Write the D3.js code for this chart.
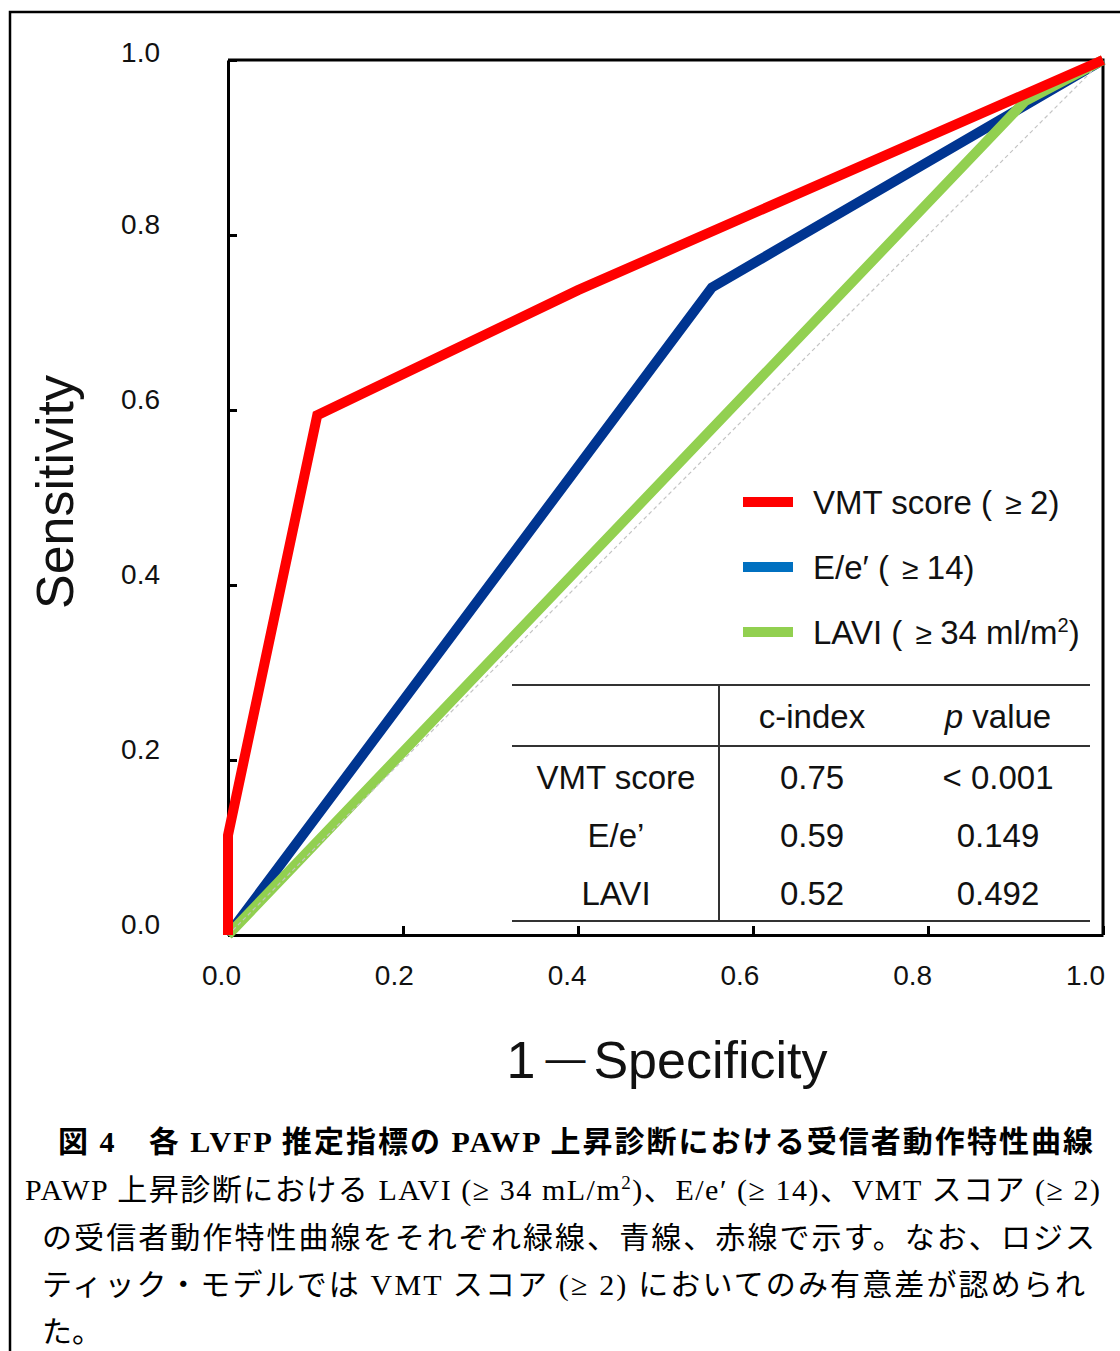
<!DOCTYPE html>
<html>
<head>
<meta charset="utf-8">
<script src="https://cdn.jsdelivr.net/npm/d3@7"></script>
<style>
  body { margin: 0; background: #fff; }
  svg { display: block; }
  .sans { font-family: "Liberation Sans", Arial, sans-serif; }
  .cap { font-family: "Liberation Serif", "Noto Sans CJK JP", serif; }
</style>
</head>
<body>
<script>
// ROC curves (1 - specificity, sensitivity)
const vmtX = [0, 0, 0.102, 0.4, 1]
const vmtY = [0, 0.114, 0.594, 0.737, 1]
const eeX = [0, 0.553, 1]
const eeY = [0, 0.74, 1]
const laviX = [0, 0.911, 1]
const laviY = [0, 0.953, 1]

const ticks = [0, 0.2, 0.4, 0.6, 0.8, 1.0]

const legendNames = ["VMT score ( ", "E/e\u2032 ( ", "LAVI ( "]
const legendCuts = ["2)", "14)", "34 ml/m"]

const rowNames = ["VMT score", "E/e\u2019", "LAVI"]
const cIndex = ["0.75", "0.59", "0.52"]
const pValues = ["< 0.001", "0.149", "0.492"]

const W = 1120, H = 1351
const svg = d3.select("body").append("svg").attr("width", W).attr("height", H)

// outer frame
svg.append("path").attr("d", `M10,${H + 5} L10,12 L${W + 5},12`).attr("fill", "none").attr("stroke", "#000").attr("stroke-width", 2.5)

const x = d3.scaleLinear().domain([0, 1]).range([228, 1103])
const y = d3.scaleLinear().domain([0, 1]).range([935, 60])
// the tick labels sit a bit left of the ticks in the figure
const xLab = d3.scaleLinear().domain([0, 1]).range([221, 1085])

const yAxis = svg.append("g").attr("transform", "translate(" + x(0) + ",0)")
  .call(d3.axisLeft(y).tickValues(ticks).tickFormat(d3.format(".1f")).tickSizeInner(-9).tickSizeOuter(0).tickPadding(68))
yAxis.selectAll("text").attr("dy", "0.32em").attr("y", d => d === 1 ? -7 : -10)
const xAxis = svg.append("g").attr("transform", "translate(0," + y(0) + ")")
  .call(d3.axisBottom(x).tickValues(ticks).tickFormat(d3.format(".1f")).tickSizeInner(-9).tickSizeOuter(0).tickPadding(30))
xAxis.selectAll("text").attr("dx", d => xLab(d) - x(d))
svg.selectAll("g path.domain, g .tick line").attr("stroke", "#000").attr("stroke-width", 3)
svg.selectAll("g .tick text").attr("class", "sans").attr("font-size", 28).attr("fill", "#111")
svg.selectAll("g").attr("font-family", null)

// top and right frame
svg.append("path").attr("d", `M${x(0)},${y(1)} L${x(1)},${y(1)} L${x(1)},${y(0)}`).attr("fill", "none").attr("stroke", "#000").attr("stroke-width", 3)

const line = d3.line().x(d => x(d[0])).y(d => y(d[1]))
const pts = (a, b) => a.map((v, i) => [v, b[i]])

svg.append("path").attr("d", line(pts(eeX, eeY))).attr("fill", "none").attr("stroke", "#003591").attr("stroke-width", 10)
svg.append("path").attr("d", line(pts(laviX, laviY))).attr("fill", "none").attr("stroke", "#92d050").attr("stroke-width", 10)
svg.append("path").attr("d", line([[0, 0], [1, 1]])).attr("fill", "none").attr("stroke", "#c4c4c4").attr("stroke-width", 1.2).attr("stroke-dasharray", "4,3")
svg.append("path").attr("d", line(pts(vmtX, vmtY))).attr("fill", "none").attr("stroke", "#ff0000").attr("stroke-width", 10)

// axis titles
svg.append("text").attr("class", "sans").attr("transform", "translate(55,492) rotate(-90)")
  .attr("text-anchor", "middle").attr("dominant-baseline", "central").attr("font-size", 52).attr("fill", "#111").text("Sensitivity")
const xt = svg.append("text").attr("class", "sans").attr("x", 667).attr("y", 1078).attr("text-anchor", "middle")
  .attr("font-size", 52).attr("fill", "#111")
xt.append("tspan").text("1")
xt.append("tspan").attr("font-size", 40).attr("dx", 10).attr("dy", -6).text("\u2014")
xt.append("tspan").attr("dx", 8).attr("dy", 6).text("Specificity")

// legend
const legColors = ["#ff0000", "#0070c0", "#92d050"]
const legY = d3.scalePoint().domain(d3.range(3)).range([502, 632])
const leg = svg.append("g")
leg.selectAll("line").data(d3.range(3)).join("line")
  .attr("x1", 743).attr("x2", 793).attr("y1", d => legY(d)).attr("y2", d => legY(d))
  .attr("stroke", d => legColors[d]).attr("stroke-width", 10)
const lt = leg.selectAll("text").data(d3.range(3)).join("text").attr("class", "sans")
  .attr("x", 813).attr("y", d => legY(d) + 12).attr("font-size", 33).attr("fill", "#111")
lt.append("tspan").text(d => legendNames[d])
lt.append("tspan").attr("font-size", 30).attr("dx", 4).text("\u2265 ")
lt.append("tspan").text(d => legendCuts[d])
lt.filter(d => d === 2).append("tspan").attr("font-size", 20).attr("dy", -12).text("2")
lt.filter(d => d === 2).append("tspan").attr("dy", 12).text(")")

// table
const tab = svg.append("g").attr("class", "sans").attr("font-size", 33).attr("fill", "#111")
const hl = [685, 746, 921]
tab.selectAll("line.h").data(hl).join("line").attr("class", "h")
  .attr("x1", 512).attr("x2", 1090).attr("y1", d => d).attr("y2", d => d).attr("stroke", "#333").attr("stroke-width", 2)
tab.append("line").attr("x1", 719).attr("x2", 719).attr("y1", 685).attr("y2", 921).attr("stroke", "#333").attr("stroke-width", 2)
const colX = [616, 812, 998]
const rowY = d3.scalePoint().domain(d3.range(3)).range([777, 893])
tab.append("text").attr("x", colX[1]).attr("y", 728).attr("text-anchor", "middle").text("c-index")
const ph = tab.append("text").attr("x", colX[2]).attr("y", 728).attr("text-anchor", "middle")
ph.append("tspan").attr("font-style", "italic").text("p")
ph.append("tspan").text(" value")
;[rowNames, cIndex, pValues].forEach((col, c) => {
  tab.selectAll("text.c" + c).data(col).join("text").attr("class", "c" + c)
    .attr("x", colX[c]).attr("y", (d, i) => rowY(i) + 12).attr("text-anchor", "middle").text(d => d)
})

// caption
const cap = svg.append("g").attr("class", "cap").attr("fill", "#000")
cap.append("text").attr("x", 58).attr("y", 1152).attr("font-size", 30).attr("font-weight", "bold")
  .attr("textLength", 1035).attr("lengthAdjust", "spacing")
  .text("図 4\u3000各 LVFP 推定指標の PAWP 上昇診断における受信者動作特性曲線")
const c2 = cap.append("text").attr("x", 25).attr("y", 1200).attr("font-size", 30)
  .attr("textLength", 1075).attr("lengthAdjust", "spacing")
c2.append("tspan").text("PAWP 上昇診断における LAVI (\u2265 34 mL/m")
c2.append("tspan").attr("font-size", 19).attr("dy", -11).text("2")
c2.append("tspan").attr("dy", 11).text(")、E/e\u2032 (\u2265 14)、VMT スコア  (\u2265 2)")
cap.append("text").attr("x", 42).attr("y", 1248).attr("font-size", 30)
  .attr("textLength", 1053).attr("lengthAdjust", "spacing")
  .text("の受信者動作特性曲線をそれぞれ緑線、青線、赤線で示す。なお、ロジス")
cap.append("text").attr("x", 42).attr("y", 1295).attr("font-size", 30)
  .attr("textLength", 1043).attr("lengthAdjust", "spacing")
  .text("ティック・モデルでは VMT スコア  (\u2265 2)  においてのみ有意差が認められ")
cap.append("text").attr("x", 42).attr("y", 1342).attr("font-size", 30).text("た。")
</script>
</body>
</html>
